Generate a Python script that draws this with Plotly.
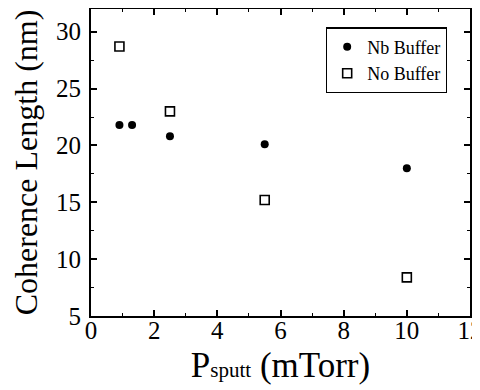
import plotly.graph_objects as go

nb_x = [0.9, 1.3, 2.5, 5.5, 10.0]
nb_y = [21.8, 21.8, 20.8, 20.1, 18.0]
no_x = [0.9, 2.5, 5.5, 10.0]
no_y = [28.7, 23.0, 15.2, 8.4]

FONT = "Liberation Serif, Times New Roman, serif"

fig = go.Figure()
fig.add_trace(go.Scatter(x=nb_x, y=nb_y, mode="markers", name="Nb Buffer",
                         marker=dict(symbol="circle", size=8, color="black",
                                     line=dict(width=0))))
fig.add_trace(go.Scatter(x=no_x, y=no_y, mode="markers", name="No Buffer",
                         marker=dict(symbol="square-open", size=9, color="black",
                                     line=dict(width=1.6))))

axis_common = dict(showline=True, linecolor="black", linewidth=2, mirror="ticks",
                   ticks="inside", ticklen=6, tickwidth=1.5, tickcolor="black",
                   showgrid=False, zeroline=False, automargin=False,
                   ticklabeloverflow="allow",
                   tickfont=dict(family=FONT, size=25, color="black"))

fig.update_xaxes(range=[0, 12], dtick=2, tick0=0, ticklabelstandoff=-9,
                 minor=dict(dtick=1, ticks="inside", ticklen=3, tickwidth=1.2, tickcolor="black"),
                 title=dict(text="P<span style='font-size:21px'>sputt</span> (mTorr)",
                            font=dict(family=FONT, size=35, color="black"),
                            standoff=9),
                 **axis_common)
fig.update_yaxes(range=[5, 32], dtick=5, tick0=5, ticklabelstandoff=3,
                 minor=dict(dtick=2.5, ticks="inside", ticklen=3, tickwidth=1.2, tickcolor="black"),
                 title=dict(text="Coherence Length (nm)", font=dict(family=FONT, size=32, color="black"),
                            standoff=16),
                 **axis_common)

# page has an 8px body margin, so the figure is 8px smaller and margins are shifted
fig.update_layout(
    width=472, height=382,
    margin=dict(l=83, r=10, t=1, b=74),
    plot_bgcolor="white", paper_bgcolor="white",
    showlegend=True,
    legend=dict(x=0.62, y=0.94, xanchor="left", yanchor="top",
                bordercolor="black", borderwidth=1.2, bgcolor="white",
                font=dict(family=FONT, size=18, color="black"),
                itemwidth=30, tracegroupgap=0),
)

fig.write_html("out.html")
